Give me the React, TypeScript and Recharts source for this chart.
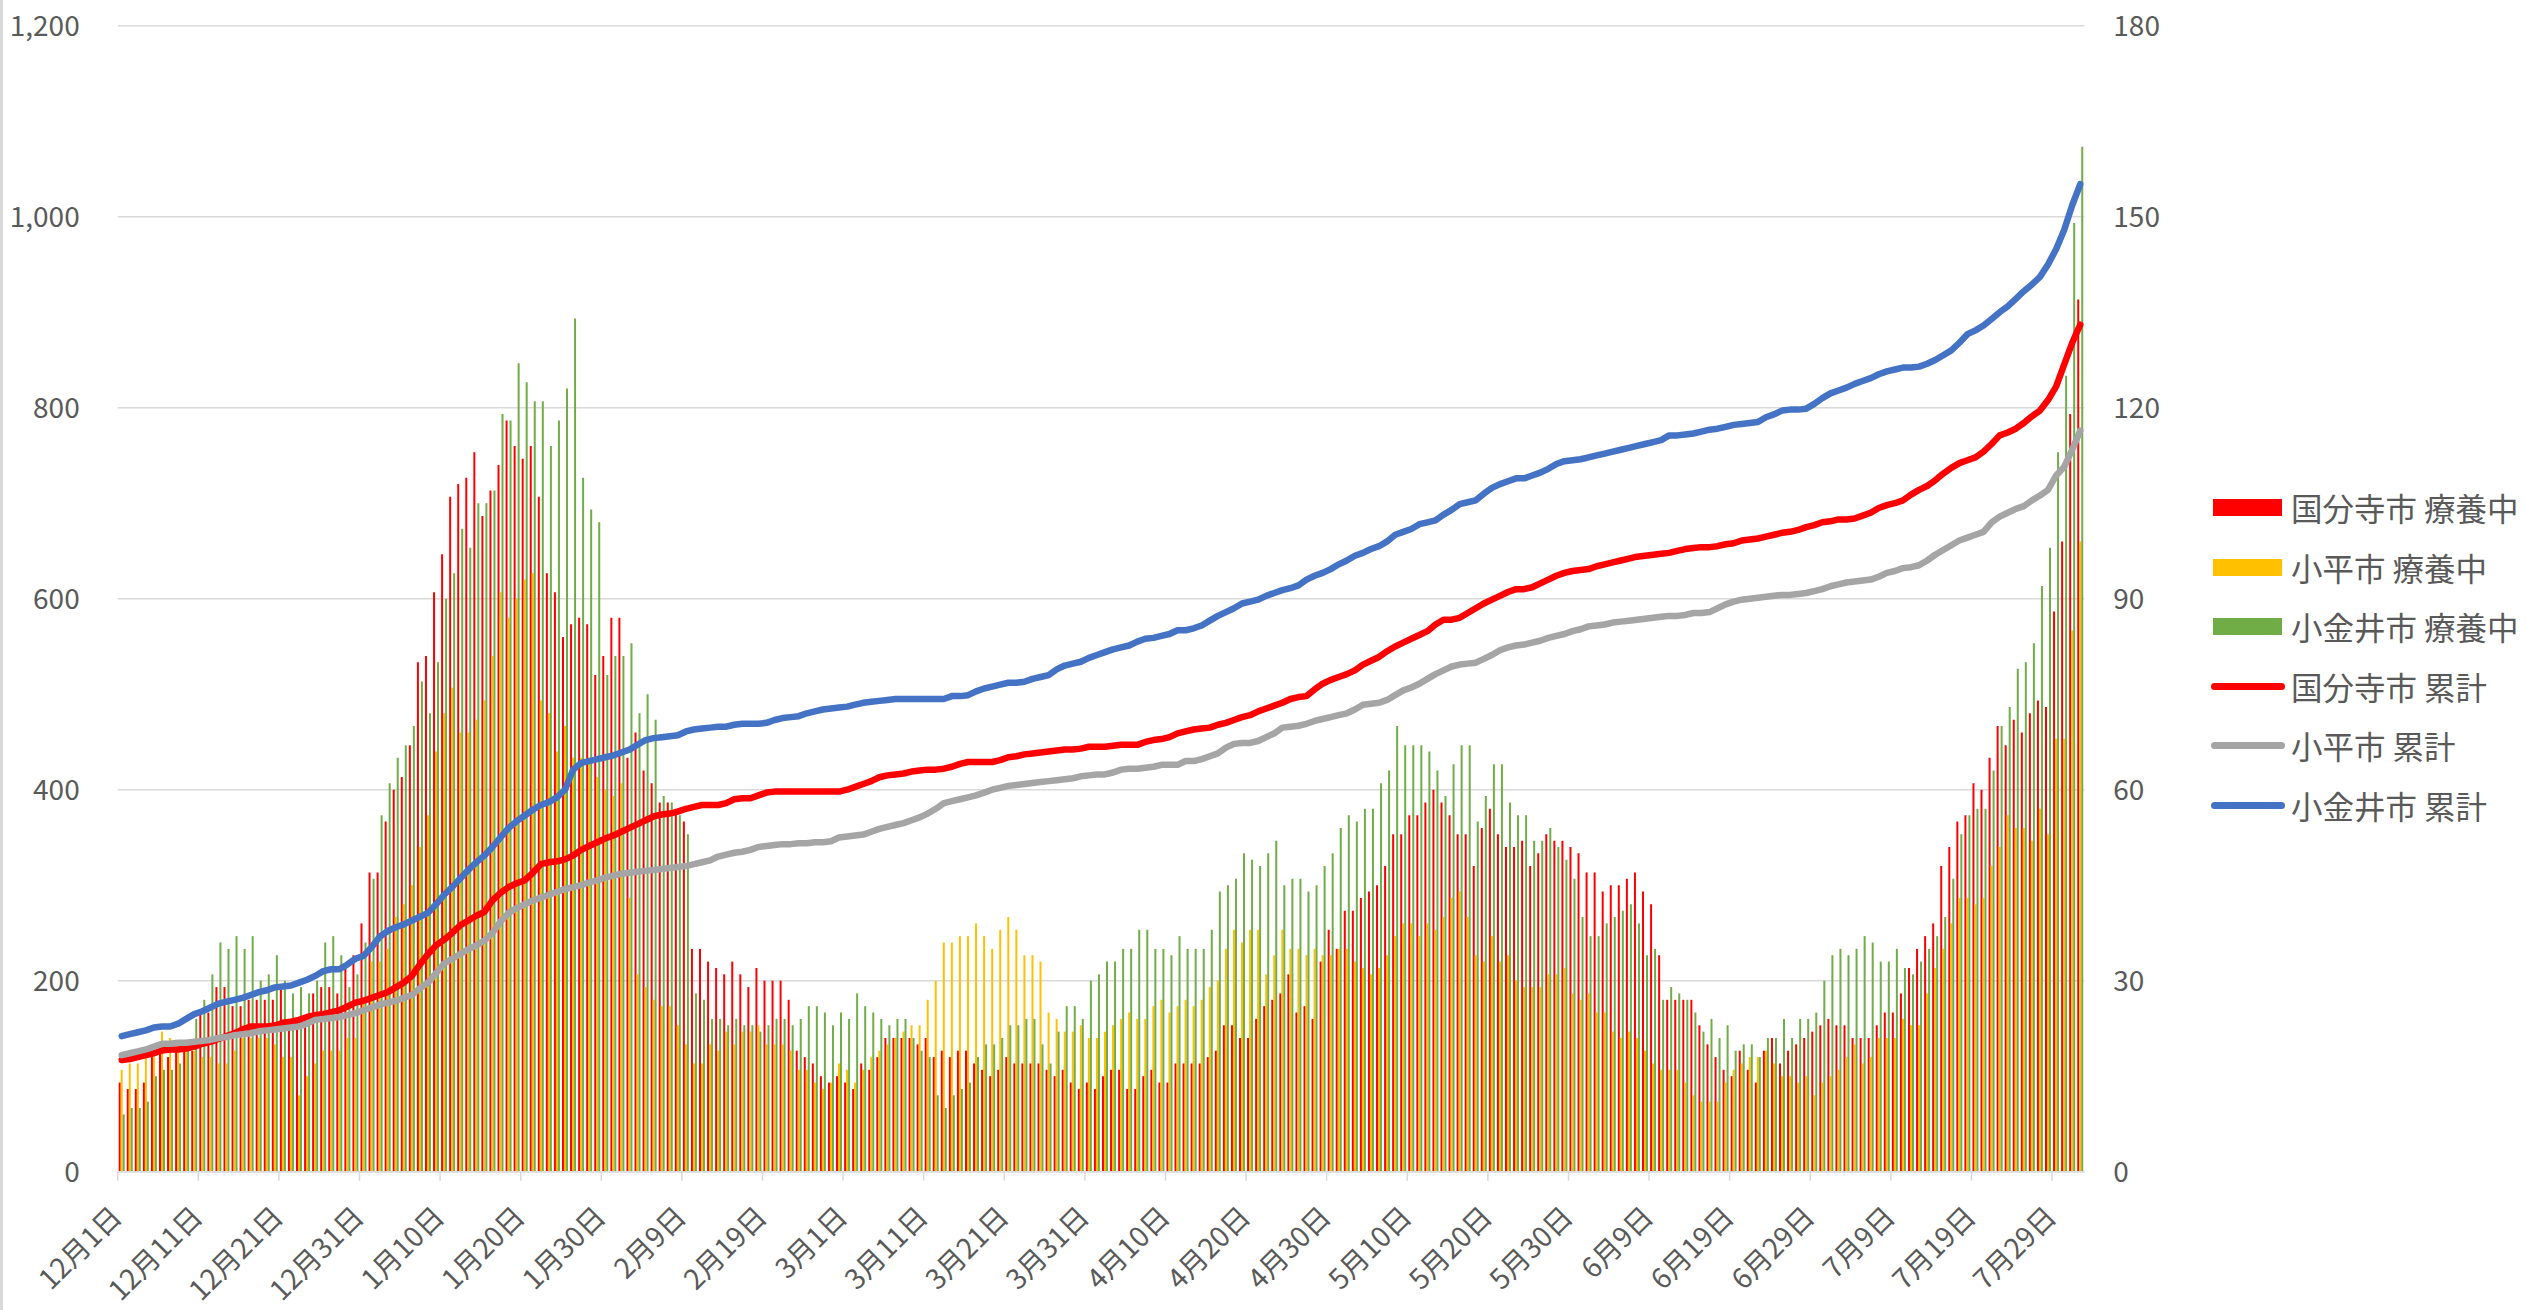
import { Bar, CartesianGrid, ComposedChart, Line, XAxis, YAxis } from "recharts";

const FONT = "'Noto Sans CJK JP', 'Noto Sans', sans-serif";
const TEXT = "#595959";
const GRID = "#d9d9d9";
const RED = "#ff0000";
const YELLOW = "#ffc000";
const GREEN = "#70ad47";
const GRAY = "#a5a5a5";
const BLUE = "#4472c4";

// month, first day, last day
const MONTH_SPANS: [number, number, number][] = [
  [12, 1, 31], [1, 1, 31], [2, 1, 28], [3, 1, 31], [4, 1, 30], [5, 1, 31], [6, 1, 30], [7, 1, 31], [8, 1, 1],
];
const DATES: string[] = MONTH_SPANS.flatMap(([m, from, to]) =>
  Array.from({ length: to - from + 1 }, (_, k) => `${m}月${from + k}日`)
);

const LEFT_TICKS = [0, 200, 400, 600, 800, 1000, 1200];
const RIGHT_TICKS = [0, 30, 60, 90, 120, 150, 180];

// 療養中 (right axis)
const KOKUBUNJI_CARE = [
  14, 13, 13, 14, 18, 19, 18, 19, 19, 19, 25, 25, 29, 29, 26, 26, 27, 27, 27, 27, 29, 24, 24, 24, 28, 29, 29, 28, 32, 34,
  39, 47, 47, 55, 60, 62, 67, 80, 81, 91, 97, 106, 108, 109, 113, 103, 107, 111, 118, 114, 112, 114, 106, 94, 91, 84, 86, 87, 86, 78,
  81, 87, 87, 65, 69, 63, 61, 58, 58, 57, 55, 35, 35, 33, 32, 31, 33, 31, 29, 32, 30, 30, 30, 27, 19, 18, 17, 15, 14, 15,
  14, 13, 17, 16, 18, 21, 21, 21, 21, 20, 21, 18, 19, 18, 19, 19, 17, 16, 15, 16, 18, 17, 17, 17, 17, 16, 15, 16, 14, 13,
  14, 13, 15, 16, 16, 13, 13, 15, 16, 14, 14, 17, 17, 17, 17, 18, 19, 23, 23, 21, 21, 24, 26, 27, 28, 31, 25, 26, 24, 33,
  38, 35, 41, 41, 43, 44, 45, 48, 53, 53, 56, 56, 58, 60, 58, 56, 53, 53, 48, 54, 57, 53, 51, 51, 52, 48, 50, 53, 52, 52,
  51, 50, 47, 47, 44, 45, 45, 46, 47, 44, 42, 34, 27, 27, 27, 27, 23, 20, 18, 16, 15, 19, 16, 14, 19, 21, 17, 19, 20, 21,
  22, 23, 24, 23, 23, 21, 21, 21, 23, 25, 25, 28, 32, 35, 37, 39, 48, 51, 55, 56, 61, 60, 65, 70, 67, 71, 69, 72, 74, 73,
  88, 99, 119, 137,
];
const KODAIRA_CARE = [
  16, 17, 17, 18, 18, 22, 21, 19, 19, 19, 18, 18, 17, 17, 19, 21, 21, 21, 21, 20, 18, 18, 12, 15, 17, 19, 19, 19, 21, 21,
  27, 33, 33, 35, 40, 42, 45, 51, 56, 66, 72, 76, 69, 69, 71, 74, 81, 91, 87, 90, 93, 94, 74, 72, 66, 70, 65, 65, 65, 62,
  60, 59, 61, 43, 31, 29, 27, 26, 26, 23, 20, 17, 17, 20, 19, 22, 20, 22, 22, 23, 20, 20, 20, 19, 16, 16, 14, 13, 14, 17,
  16, 14, 16, 18, 19, 20, 21, 22, 23, 23, 27, 30, 36, 36, 37, 37, 39, 37, 35, 38, 40, 38, 34, 34, 33, 25, 24, 22, 22, 23,
  21, 21, 22, 23, 24, 25, 24, 24, 26, 27, 25, 26, 27, 26, 27, 29, 30, 35, 38, 36, 38, 38, 31, 34, 38, 35, 35, 34, 35, 34,
  34, 35, 35, 33, 32, 31, 32, 34, 37, 39, 39, 37, 39, 38, 40, 43, 44, 40, 34, 33, 37, 33, 34, 30, 29, 29, 29, 31, 31, 32,
  28, 27, 28, 25, 25, 22, 21, 22, 21, 19, 17, 16, 16, 16, 14, 12, 11, 11, 11, 14, 16, 17, 18, 18, 19, 17, 15, 15, 14, 15,
  12, 14, 15, 16, 18, 20, 17, 18, 21, 21, 21, 24, 23, 23, 28, 32, 35, 39, 43, 43, 42, 43, 48, 51, 56, 54, 54, 52, 57, 53,
  68, 68, 85, 99,
];
const KOGANEI_CARE = [
  9, 10, 10, 11, 15, 16, 16, 17, 20, 24, 27, 31, 36, 35, 37, 35, 37, 30, 31, 34, 30, 28, 29, 28, 30, 36, 37, 34, 29, 31,
  36, 46, 56, 61, 65, 67, 70, 77, 72, 80, 90, 94, 101, 98, 105, 105, 107, 119, 118, 127, 124, 121, 121, 114, 118, 123, 134, 109, 104, 102,
  78, 81, 81, 83, 72, 75, 71, 59, 58, 56, 53, 28, 27, 24, 24, 23, 24, 23, 23, 22, 23, 24, 24, 23, 24, 26, 26, 25, 23, 25,
  24, 28, 26, 25, 24, 23, 24, 24, 21, 19, 18, 12, 10, 12, 13, 14, 18, 20, 20, 21, 23, 23, 24, 24, 20, 17, 22, 26, 26, 24,
  30, 31, 33, 33, 35, 35, 38, 38, 35, 35, 34, 37, 35, 35, 35, 38, 44, 45, 46, 50, 49, 48, 50, 52, 45, 46, 46, 44, 45, 48,
  50, 54, 56, 55, 57, 57, 61, 63, 70, 67, 67, 67, 66, 63, 59, 64, 67, 67, 55, 59, 64, 64, 58, 56, 56, 52, 52, 54, 51, 49,
  46, 40, 37, 37, 39, 40, 41, 42, 39, 34, 35, 27, 29, 28, 27, 25, 22, 24, 21, 23, 19, 20, 20, 18, 21, 21, 24, 21, 24, 24,
  25, 30, 34, 35, 34, 35, 37, 36, 33, 33, 35, 32, 31, 33, 35, 37, 40, 46, 53, 56, 57, 57, 63, 70, 73, 79, 80, 83, 92, 98,
  113, 125, 149, 161,
];

// 累計 (left axis)
const KOKUBUNJI_TOTAL = [
  117, 118, 120, 122, 124, 127, 128, 128, 129, 131, 134, 136, 139, 142, 145, 149, 152, 152, 152, 153,
  156, 157, 159, 162, 164, 165, 167, 169, 173, 177, 179, 182, 185, 188, 193, 198, 205, 217, 228, 237,
  243, 250, 258, 263, 268, 272, 284, 292, 298, 302, 305, 313, 322, 324, 325, 327, 331, 337, 341, 345,
  349, 352, 356, 360, 364, 368, 372, 374, 375, 377, 380, 382, 384, 384, 384, 386, 390, 391, 391, 394,
  397, 398, 398, 398, 398, 398, 398, 398, 398, 398, 400, 403, 406, 409, 413, 415, 416, 417, 419, 420,
  421, 421, 422, 424, 427, 429, 429, 429, 429, 431, 434, 435, 437, 438, 439, 440, 441, 442, 442, 443,
  445, 445, 445, 446, 447, 447, 447, 450, 452, 453, 455, 459, 461, 463, 464, 465, 468, 470, 473, 476,
  478, 482, 485, 488, 491, 495, 497, 498, 505, 511, 515, 518, 521, 525, 531, 535, 539, 545, 550, 554,
  558, 562, 566, 573, 578, 578, 580, 585, 590, 595, 599, 603, 607, 610, 610, 612, 616, 620, 624, 627,
  629, 630, 631, 634, 636, 638, 640, 642, 644, 645, 646, 647, 648, 650, 652, 653, 654, 654, 655, 657,
  658, 661, 662, 663, 665, 667, 669, 670, 672, 675, 677, 680, 681, 683, 683, 684, 687, 690, 695, 698,
  700, 703, 709, 714, 718, 724, 731, 737, 742, 745, 748, 754, 762, 771, 774, 778, 784, 791, 797, 808,
  822, 845, 868, 887,
];
const KODAIRA_TOTAL = [
  122, 124, 126, 128, 131, 134, 134, 135, 135, 136, 137, 138, 140, 141, 143, 144, 145, 147, 148, 149,
  150, 151, 152, 155, 159, 160, 161, 162, 164, 166, 169, 172, 175, 177, 179, 182, 185, 192, 198, 208,
  218, 223, 228, 233, 237, 242, 250, 262, 271, 276, 280, 284, 287, 290, 293, 296, 298, 300, 303, 305,
  308, 310, 312, 313, 314, 315, 316, 317, 318, 319, 320, 322, 324, 326, 330, 332, 334, 335, 337, 340,
  341, 342, 343, 343, 344, 344, 345, 345, 346, 350, 351, 352, 353, 356, 359, 361, 363, 365, 368, 371,
  375, 380, 386, 388, 390, 392, 394, 397, 400, 402, 404, 405, 406, 407, 408, 409, 410, 411, 412, 414,
  415, 416, 416, 418, 421, 422, 422, 423, 424, 426, 426, 426, 430, 430, 432, 435, 438, 444, 448, 449,
  449, 451, 455, 459, 465, 466, 467, 469, 472, 474, 476, 478, 480, 484, 489, 490, 491, 494, 499, 504,
  507, 511, 516, 521, 525, 529, 531, 532, 533, 537, 541, 546, 549, 551, 552, 554, 556, 559, 561, 563,
  566, 568, 571, 572, 573, 575, 576, 577, 578, 579, 580, 581, 582, 582, 583, 585, 585, 586, 590, 594,
  597, 599, 600, 601, 602, 603, 604, 604, 605, 606, 608, 610, 613, 615, 617, 618, 619, 620, 623, 627,
  629, 632, 633, 635, 640, 646, 651, 656, 661, 664, 667, 670, 680, 686, 690, 694, 697, 703, 708, 714,
  729, 738, 756, 776,
];
const KOGANEI_TOTAL = [
  142, 144, 146, 148, 151, 152, 152, 155, 160, 165, 168, 172, 176, 178, 180, 182, 185, 188, 190, 193,
  194, 195, 198, 201, 205, 210, 212, 212, 217, 223, 226, 235, 246, 252, 256, 259, 263, 267, 271, 280,
  290, 298, 307, 316, 324, 331, 340, 350, 360, 367, 373, 379, 384, 387, 392, 400, 421, 428, 430, 432,
  434, 436, 439, 442, 447, 452, 454, 455, 456, 457, 461, 463, 464, 465, 466, 466, 468, 469, 469, 469,
  470, 473, 475, 476, 477, 480, 482, 484, 485, 486, 487, 489, 491, 492, 493, 494, 495, 495, 495, 495,
  495, 495, 495, 498, 498, 499, 503, 506, 508, 510, 512, 512, 513, 516, 518, 520, 526, 530, 532, 534,
  538, 541, 544, 547, 549, 551, 555, 558, 559, 561, 563, 567, 567, 569, 572, 577, 582, 586, 590, 595,
  597, 599, 603, 606, 609, 611, 614, 620, 624, 627, 631, 636, 640, 645, 648, 652, 655, 660, 667, 670,
  673, 678, 680, 682, 688, 693, 699, 701, 703, 710, 716, 720, 723, 726, 726, 729, 732, 736, 741, 744,
  745, 746, 748, 750, 752, 754, 756, 758, 760, 762, 764, 766, 771, 771, 772, 773, 775, 777, 778, 780,
  782, 783, 784, 785, 790, 793, 797, 798, 798, 799, 804, 810, 815, 818, 821, 825, 828, 831, 835, 838,
  840, 842, 842, 843, 846, 850, 855, 860, 868, 877, 881, 886, 893, 900, 906, 914, 922, 929, 937, 950,
  966, 986, 1012, 1034,
];

const data = DATES.map((date, i) => ({
  date,
  kokubunjiCare: KOKUBUNJI_CARE[i],
  kodairaCare: KODAIRA_CARE[i],
  koganeiCare: KOGANEI_CARE[i],
  kokubunjiTotal: KOKUBUNJI_TOTAL[i],
  kodairaTotal: KODAIRA_TOTAL[i],
  koganeiTotal: KOGANEI_TOTAL[i],
}));

const LEGEND_ITEMS = [
  { label: "国分寺市 療養中", color: RED, kind: "bar" },
  { label: "小平市 療養中", color: YELLOW, kind: "bar" },
  { label: "小金井市 療養中", color: GREEN, kind: "bar" },
  { label: "国分寺市 累計", color: RED, kind: "line" },
  { label: "小平市 累計", color: GRAY, kind: "line" },
  { label: "小金井市 累計", color: BLUE, kind: "line" },
];

const PLOT_LEFT = 117.7;
const PLOT_RIGHT = 2084.3;
const BAND = (PLOT_RIGHT - PLOT_LEFT) / DATES.length;

function DateTick(props: any) {
  const { x, y, payload } = props;
  return (
    <g transform={`translate(${x},${y})`}>
      <line x1={-BAND / 2} x2={-BAND / 2} y1={0} y2={9} stroke={GRID} strokeWidth={1.5} />
      <text
        transform="translate(-5,40) rotate(-45)"
        textAnchor="end"
        dy="0.35em"
        fill={TEXT}
        fontSize={28}
        fontFamily={FONT}
      >
        {payload.value}
      </text>
    </g>
  );
}

function ChartLegend() {
  return (
    <div style={{ position: "absolute", left: 2211, top: 478 }}>
      {LEGEND_ITEMS.map((it) => (
        <div key={it.label} style={{ display: "flex", alignItems: "center", height: 59.5 }}>
          {it.kind === "bar" ? (
            <div style={{ width: 69, height: 17, marginLeft: 2, background: it.color }} />
          ) : (
            <div style={{ width: 74, height: 7, borderRadius: 4, background: it.color }} />
          )}
          <span
            style={{
              marginLeft: it.kind === "bar" ? 9 : 6,
              fontSize: 31.5,
              color: TEXT,
              fontFamily: FONT,
              whiteSpace: "nowrap",
              lineHeight: 1,
            }}
          >
            {it.label}
          </span>
        </div>
      ))}
    </div>
  );
}

export default function App() {
  const tickStyle = { fill: TEXT, fontSize: 28, fontFamily: FONT };
  return (
    <div style={{ position: "absolute", left: 0, top: 0, width: 2526, height: 1310, background: "#fff", overflow: "hidden" }}>
      <div style={{ position: "absolute", left: 0, top: 0, width: 3, height: 1310, background: GRID }} />
      <ComposedChart
        width={2526}
        height={1310}
        data={data}
        margin={{ top: 25.7, right: 0, bottom: 0, left: 0 }}
        barGap={0}
        barCategoryGap={1}
      >
        <CartesianGrid yAxisId="left" vertical={false} stroke={GRID} strokeWidth={1.5} />
        <XAxis
          dataKey="date"
          interval={9}
          height={138.3}
          tick={<DateTick />}
          tickLine={false}
          tickSize={0}
          tickMargin={0}
          axisLine={{ stroke: GRID, strokeWidth: 1.5 }}
        />
        <YAxis
          yAxisId="left"
          domain={[0, 1200]}
          ticks={LEFT_TICKS}
          width={PLOT_LEFT}
          axisLine={false}
          tickLine={false}
          tickSize={0}
          tickMargin={38}
          tick={tickStyle}
          tickFormatter={(v: number) => v.toLocaleString("en-US")}
        />
        <YAxis
          yAxisId="right"
          orientation="right"
          domain={[0, 180]}
          ticks={RIGHT_TICKS}
          width={2526 - PLOT_RIGHT}
          axisLine={false}
          tickLine={false}
          tickSize={0}
          tickMargin={29}
          tick={{ ...tickStyle, textAnchor: "start" }}
        />
        <Bar yAxisId="right" dataKey="kokubunjiCare" name="国分寺市 療養中" fill={RED} isAnimationActive={false} />
        <Bar yAxisId="right" dataKey="kodairaCare" name="小平市 療養中" fill={YELLOW} isAnimationActive={false} />
        <Bar yAxisId="right" dataKey="koganeiCare" name="小金井市 療養中" fill={GREEN} isAnimationActive={false} />
        <Line yAxisId="left" type="linear" dataKey="kokubunjiTotal" name="国分寺市 累計" stroke={RED} strokeWidth={6.5} strokeLinejoin="round" strokeLinecap="round" dot={false} isAnimationActive={false} />
        <Line yAxisId="left" type="linear" dataKey="kodairaTotal" name="小平市 累計" stroke={GRAY} strokeWidth={6.5} strokeLinejoin="round" strokeLinecap="round" dot={false} isAnimationActive={false} />
        <Line yAxisId="left" type="linear" dataKey="koganeiTotal" name="小金井市 累計" stroke={BLUE} strokeWidth={6.5} strokeLinejoin="round" strokeLinecap="round" dot={false} isAnimationActive={false} />
      </ComposedChart>
      <ChartLegend />
    </div>
  );
}
